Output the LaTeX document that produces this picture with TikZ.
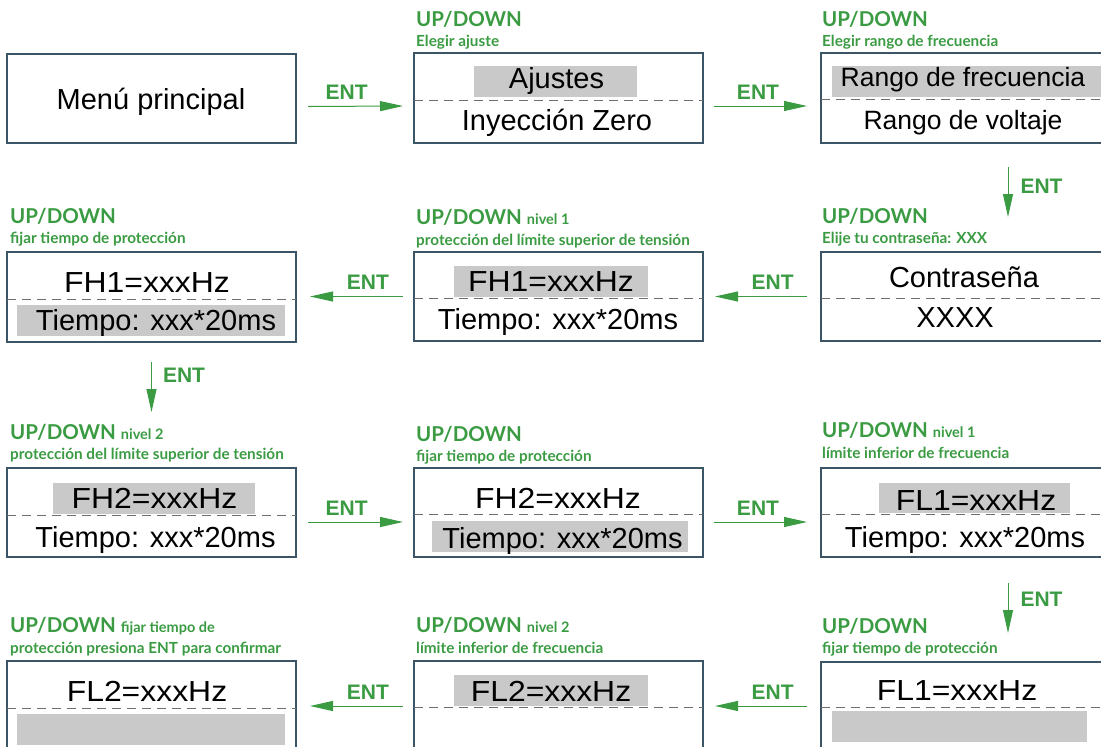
\documentclass[tikz,border=0pt]{standalone}
\usepackage{fontspec}
\setmainfont{Liberation Sans}
\newfontfamily\labfont{Lato}
\usetikzlibrary{arrows.meta}
\definecolor{grn}{RGB}{58,155,66}
\definecolor{hl}{RGB}{200,201,200}
\definecolor{bd}{RGB}{60,85,102}
\definecolor{dsh}{RGB}{110,110,110}
\tikzset{
 box/.style={draw=bd, line width=1.2pt, rectangle, inner sep=0pt, outer sep=0pt},
 arr/.style={draw=grn, line width=1pt, -{Triangle[length=23pt,width=10pt]}},
 ent/.style={text=grn, anchor=base, inner sep=0pt, font=\fontsize{21}{21}\selectfont\bfseries},
 entv/.style={ent, anchor=base west},
 upd/.style={anchor=base west, inner sep=0pt, text=grn, font=\labfont\fontsize{20.5}{20.5}\selectfont\bfseries},
 sub/.style={anchor=base west, inner sep=0pt, text=grn, font=\labfont\fontsize{15.3}{15.3}\selectfont\bfseries},
 txt/.style={anchor=base, inner sep=0pt, font=\fontsize{29}{29}\selectfont},
 txts/.style={anchor=base, inner sep=0pt, font=\fontsize{26.5}{26.5}\selectfont},
 hlb/.style={fill=hl, draw=none},
 sep/.style={draw=dsh, line width=1pt, dash pattern=on 9pt off 6pt},
}
\newcommand{\nivtxt}[1]{{\fontsize{14.5}{14.5}\selectfont #1}}
\newcommand{\widetxt}[1]{\scalebox{1.1}[1]{#1}}
\begin{document}
\begin{tikzpicture}[x=1pt,y=-1pt]
\useasboundingbox (0,0) rectangle (1101,747);
\clip (0,0) rectangle (1101,747);
% highlights
\fill[hl] (474,66) rectangle (637,97);
\fill[hl] (832,66) rectangle (1110,97);
\fill[hl] (17,305) rectangle (285,336);
\fill[hl] (454,266) rectangle (648,297);
\fill[hl] (53,483) rectangle (255,514);
\fill[hl] (432,521) rectangle (688,552);
\fill[hl] (879,483) rectangle (1070,513);
\fill[hl] (832,711) rectangle (1087,742);
\fill[hl] (454,675) rectangle (648,706);
\fill[hl] (17,714) rectangle (285,745);
% boxes
\node[box, minimum width=289pt, minimum height=89pt] (b1) at (151.5,98.5) {};
\node[box, minimum width=289pt, minimum height=90pt] (b2) at (558.5,98) {};
\node[box, minimum width=284pt, minimum height=90pt] (b3) at (963,98) {};
\node[box, minimum width=289pt, minimum height=90pt] (b4) at (151.5,297) {};
\node[box, minimum width=289pt, minimum height=89pt] (b5) at (558.5,296.5) {};
\node[box, minimum width=284pt, minimum height=89pt] (b6) at (963,296.5) {};
\node[box, minimum width=289pt, minimum height=89pt] (b7) at (151.5,512.5) {};
\node[box, minimum width=289pt, minimum height=89pt] (b8) at (558.5,512.5) {};
\node[box, minimum width=284pt, minimum height=89pt] (b9) at (963,512.5) {};
\node[box, minimum width=289pt, minimum height=99pt] (b10) at (151.5,710.5) {};
\node[box, minimum width=289pt, minimum height=99pt] (b11) at (558.5,710.5) {};
\node[box, minimum width=284pt, minimum height=98pt] (b12) at (963,711) {};
% separators
\draw[sep] (b2.west |- 0,100) -- (b2.east |- 0,100);
\draw[sep] (b3.west |- 0,99) -- (b3.east |- 0,99);
\draw[sep] (b4.west |- 0,299) -- (b4.east |- 0,299);
\draw[sep] (b5.west |- 0,298) -- (b5.east |- 0,298);
\draw[sep] (b6.west |- 0,298) -- (b6.east |- 0,298);
\draw[sep] (b7.west |- 0,515) -- (b7.east |- 0,515);
\draw[sep] (b8.west |- 0,514) -- (b8.east |- 0,514);
\draw[sep] (b9.west |- 0,514) -- (b9.east |- 0,514);
\draw[sep] (b10.west |- 0,708) -- (b10.east |- 0,708);
\draw[sep] (b11.west |- 0,707) -- (b11.east |- 0,707);
\draw[sep] (b12.west |- 0,707) -- (b12.east |- 0,707);
% box texts
\node[txt] (t1) at (151,109) {Menú principal};
\node[txt] (t2a) at (556.5,88) {Ajustes};
\node[txt] (t2b) at (557,130) {Inyección Zero};
\node[txts] (t3a) at (963,86) {Rango de frecuencia};
\node[txts] (t3b) at (963,129) {Rango de voltaje};
\node[txt] (t4a) at (147,292) {\widetxt{FH1=xxxHz}};
\node[txt] (t4b) at (156,330) {Tiempo: xxx*20ms};
\node[txt] (t5a) at (551,291) {\widetxt{FH1=xxxHz}};
\node[txt] (t5b) at (558,329) {Tiempo: xxx*20ms};
\node[txt] (t6a) at (964,287) {Contraseña};
\node[txt] (t6b) at (955,327) {XXXX};
\node[txt] (t7a) at (154.5,508) {\widetxt{FH2=xxxHz}};
\node[txt] (t7b) at (155.5,547) {Tiempo: xxx*20ms};
\node[txt] (t8a) at (558,508) {\widetxt{FH2=xxxHz}};
\node[txt] (t8b) at (562.5,548) {Tiempo: xxx*20ms};
\node[txt] (t9a) at (976,510) {\widetxt{FL1=xxxHz}};
\node[txt] (t9b) at (965,547) {Tiempo: xxx*20ms};
\node[txt] (t12) at (957,700) {\widetxt{FL1=xxxHz}};
\node[txt] (t11) at (551,701) {\widetxt{FL2=xxxHz}};
\node[txt] (t10) at (147,701) {\widetxt{FL2=xxxHz}};
% labels
\node[upd] (u2) at (416,26) {UP/DOWN};
\node[sub] (s2) at (416,46) {Elegir ajuste};
\node[upd] (u3) at (822,26) {UP/DOWN};
\node[sub] (s3) at (822,46) {Elegir rango de frecuencia};
\node[upd] (u4) at (10,223) {UP/DOWN};
\node[sub] (s4) at (10,243) {fijar tiempo de protección};
\node[upd] (u5) at (416,224) {UP/DOWN \nivtxt{nivel 1}};
\node[sub] (s5) at (416,245) {protección del límite superior de tensión};
\node[upd] (u6) at (822,223) {UP/DOWN};
\node[sub] (s6) at (822,243) {Elije tu contraseña: XXX};
\node[upd] (u7) at (10,439) {UP/DOWN \nivtxt{nivel 2}};
\node[sub] (s7) at (10,459) {protección del límite superior de tensión};
\node[upd] (u8) at (416,441) {UP/DOWN};
\node[sub] (s8) at (416,461) {fijar tiempo de protección};
\node[upd] (u9) at (822,437) {UP/DOWN \nivtxt{nivel 1}};
\node[sub] (s9) at (822,458) {límite inferior de frecuencia};
\node[upd] (u10) at (10,632) {UP/DOWN \nivtxt{fijar tiempo de}};
\node[sub] (s10) at (10,653) {protección presiona ENT para confirmar};
\node[upd] (u11) at (416,632) {UP/DOWN \nivtxt{nivel 2}};
\node[sub] (s11) at (416,653) {límite inferior de frecuencia};
\node[upd] (u12) at (822,633) {UP/DOWN};
\node[sub] (s12) at (822,653) {fijar tiempo de protección};
% arrows
\draw[arr, shorten <=12pt, shorten >=11pt] ([yshift=-8pt]b1.east) -- ([yshift=-8pt]b2.west) node[ent, pos=0.43, yshift=7pt] (e1) {ENT};
\draw[arr, shorten <=11pt, shorten >=14pt] ([yshift=-8pt]b2.east) -- ([yshift=-8pt]b3.west) node[ent, pos=0.466, yshift=7pt] (e2) {ENT};
\draw[arr, shorten <=24pt, shorten >=35pt] ([xshift=45pt]b3.south) -- ([xshift=45pt]b6.north) node[entv, pos=0.46, xshift=12pt] (e3) {ENT};
\draw[arr, shorten <=14pt, shorten >=12pt] (b6.west) -- (b6.west -| b5.east) node[ent, pos=0.41, yshift=7pt] (e4) {ENT};
\draw[arr, shorten <=11pt, shorten >=14pt] (b5.west) -- (b5.west -| b4.east) node[ent, pos=0.39, yshift=7pt] (e5) {ENT};
\draw[arr, shorten <=20pt, shorten >=56pt] (b4.south) -- (b7.north) node[entv, pos=0.325, xshift=11pt] (e6) {ENT};
\draw[arr, shorten <=12pt, shorten >=11pt] ([yshift=-9.5pt]b7.east) -- ([yshift=-9.5pt]b8.west) node[ent, pos=0.43, yshift=7pt] (e7) {ENT};
\draw[arr, shorten <=11pt, shorten >=14pt] ([yshift=-9.5pt]b8.east) -- ([yshift=-9.5pt]b9.west) node[ent, pos=0.466, yshift=7pt] (e8) {ENT};
\draw[arr, shorten <=26pt, shorten >=29pt] ([xshift=45pt]b9.south) -- ([xshift=45pt]b12.north) node[entv, pos=0.476, xshift=12pt] (e9) {ENT};
\draw[arr, shorten <=14pt, shorten >=12pt] ([yshift=5pt]b12.west) -- ([yshift=5pt]b12.west -| b11.east) node[ent, pos=0.41, yshift=7pt] (e10) {ENT};
\draw[arr, shorten <=11pt, shorten >=14pt] ([yshift=4.5pt]b11.west) -- ([yshift=4.5pt]b11.west -| b10.east) node[ent, pos=0.39, yshift=7pt] (e11) {ENT};
\end{tikzpicture}
\end{document}
